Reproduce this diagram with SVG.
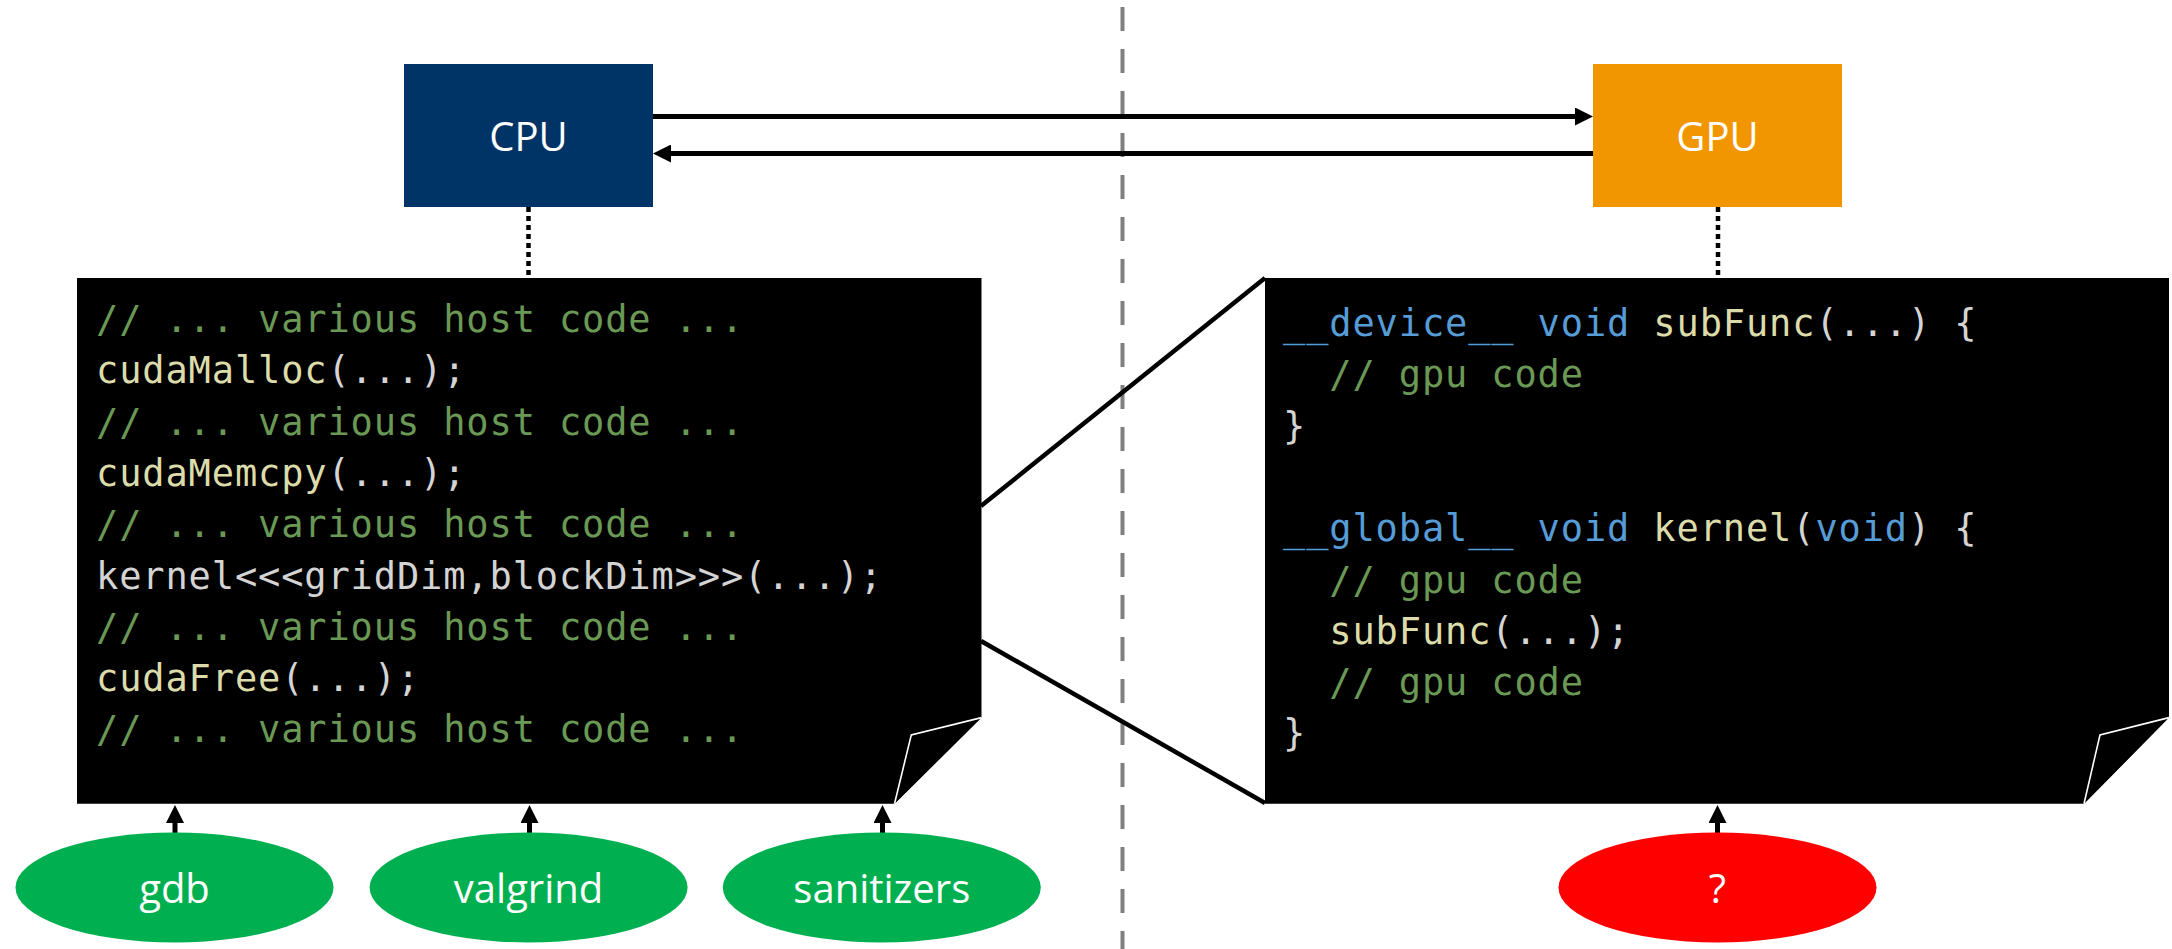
<svg xmlns="http://www.w3.org/2000/svg" width="2172" height="949" viewBox="0 0 2172 949">
<style>
.lbl{font-family:"Open Sans","Liberation Sans",sans-serif;font-size:40px;fill:#fff;text-anchor:middle}
.code{font-family:"DejaVu Sans Mono","Liberation Mono",monospace;font-size:37px;letter-spacing:0.87px;fill:#D4D4D4}
.cm{fill:#6A9955}.fn{fill:#DCDCAA}.kw{fill:#569CD6}.pl{fill:#D4D4D4}
.conn{stroke:#000;stroke-width:5;fill:none}
.dot{stroke:#000;stroke-width:4.5;stroke-dasharray:5 4;fill:none}
.zoom{stroke:#000;stroke-width:4.5;fill:none}
.fold{fill:#000;stroke:none}
.foldedge{stroke:#fff;stroke-width:1.6;fill:none}
.tool{fill:#00B050}
</style>
<defs>
<marker id="ah" markerUnits="userSpaceOnUse" markerWidth="18" markerHeight="18" viewBox="0 0 18 18" refX="8" refY="9" orient="auto">
<path d="M0,0 L18,9 L0,18 z" fill="#000"/>
</marker>
</defs>
<rect width="2172" height="949" fill="#fff"/>
<line x1="1122.5" y1="7" x2="1122.5" y2="949" stroke="#808080" stroke-width="4" stroke-dasharray="24 18"/>
<g id="connectors">
<line class="conn" x1="653" y1="116.5" x2="1583" y2="116.5" marker-end="url(#ah)"/>
<line class="conn" x1="1593" y1="153.5" x2="663" y2="153.5" marker-end="url(#ah)"/>
<line class="dot" x1="528.5" y1="207" x2="528.5" y2="277"/>
<line class="dot" x1="1718" y1="207" x2="1718" y2="277"/>
<line class="zoom" x1="981" y1="506" x2="1265" y2="278"/>
<line class="zoom" x1="981" y1="641" x2="1265" y2="803"/>
<line class="conn" x1="175" y1="836" x2="175" y2="815" marker-end="url(#ah)"/>
<line class="conn" x1="529.5" y1="836" x2="529.5" y2="815" marker-end="url(#ah)"/>
<line class="conn" x1="882.5" y1="836" x2="882.5" y2="815" marker-end="url(#ah)"/>
<line class="conn" x1="1717.5" y1="836" x2="1717.5" y2="815" marker-end="url(#ah)"/>
</g>
<g id="cpu">
<rect x="404" y="64" width="249" height="143" fill="#003366"/>
<text class="lbl" x="528.5" y="151">CPU</text>
</g>
<g id="gpu">
<rect x="1593" y="64" width="249" height="143" fill="#F29600"/>
<text class="lbl" x="1717.5" y="151">GPU</text>
</g>
<g id="host-code">
<polygon points="77,278 981.5,278 981.5,717.6 894.5,803.7 77,803.7" fill="#000"/>
<polygon class="fold" points="981.5,717.6 911.3,734.9 894.5,803.7"/>
<polyline class="foldedge" points="981.5,717.6 911.3,734.9 894.5,803.7"/>
<text class="code" x="96" y="332"><tspan class="cm">// ... various host code ...</tspan></text>
<text class="code" x="96" y="383.3"><tspan class="fn">cudaMalloc</tspan><tspan class="pl">(...);</tspan></text>
<text class="code" x="96" y="434.6"><tspan class="cm">// ... various host code ...</tspan></text>
<text class="code" x="96" y="485.9"><tspan class="fn">cudaMemcpy</tspan><tspan class="pl">(...);</tspan></text>
<text class="code" x="96" y="537.2"><tspan class="cm">// ... various host code ...</tspan></text>
<text class="code" x="96" y="588.5"><tspan class="pl">kernel&lt;&lt;&lt;gridDim,blockDim&gt;&gt;&gt;(...);</tspan></text>
<text class="code" x="96" y="639.8"><tspan class="cm">// ... various host code ...</tspan></text>
<text class="code" x="96" y="691.1"><tspan class="fn">cudaFree</tspan><tspan class="pl">(...);</tspan></text>
<text class="code" x="96" y="742.4"><tspan class="cm">// ... various host code ...</tspan></text>
</g>
<g id="device-code">
<polygon points="1265,278 2169,278 2169,717.6 2084,803.7 1265,803.7" fill="#000"/>
<polygon class="fold" points="2169,717.6 2100,734.9 2084,803.7"/>
<polyline class="foldedge" points="2169,717.6 2100,734.9 2084,803.7"/>
<text class="code" x="1283" y="336"><tspan class="kw">__device__ void</tspan><tspan class="fn"> subFunc</tspan><tspan class="pl">(...) {</tspan></text>
<text class="code" x="1329.3" y="387.3"><tspan class="cm">// gpu code</tspan></text>
<text class="code" x="1283" y="438.6"><tspan class="pl">}</tspan></text>
<text class="code" x="1283" y="541.2"><tspan class="kw">__global__ void</tspan><tspan class="fn"> kernel</tspan><tspan class="pl">(</tspan><tspan class="kw">void</tspan><tspan class="pl">) {</tspan></text>
<text class="code" x="1329.3" y="592.5"><tspan class="cm">// gpu code</tspan></text>
<text class="code" x="1329.3" y="643.8"><tspan class="fn">subFunc</tspan><tspan class="pl">(...);</tspan></text>
<text class="code" x="1329.3" y="695.1"><tspan class="cm">// gpu code</tspan></text>
<text class="code" x="1283" y="746.4"><tspan class="pl">}</tspan></text>
</g>
<g id="gdb">
<ellipse class="tool" cx="174.5" cy="887.5" rx="159" ry="55"/>
<text class="lbl" x="174.5" y="903">gdb</text>
</g>
<g id="valgrind">
<ellipse class="tool" cx="528.6" cy="887.5" rx="159" ry="55"/>
<text class="lbl" x="528.6" y="903">valgrind</text>
</g>
<g id="sanitizers">
<ellipse class="tool" cx="881.8" cy="887.5" rx="159" ry="55"/>
<text class="lbl" x="881.8" y="903">sanitizers</text>
</g>
<g id="unknown">
<ellipse cx="1717.5" cy="887.5" rx="159" ry="55" fill="#FF0000"/>
<text class="lbl" x="1717.5" y="903">?</text>
</g>
</svg>
